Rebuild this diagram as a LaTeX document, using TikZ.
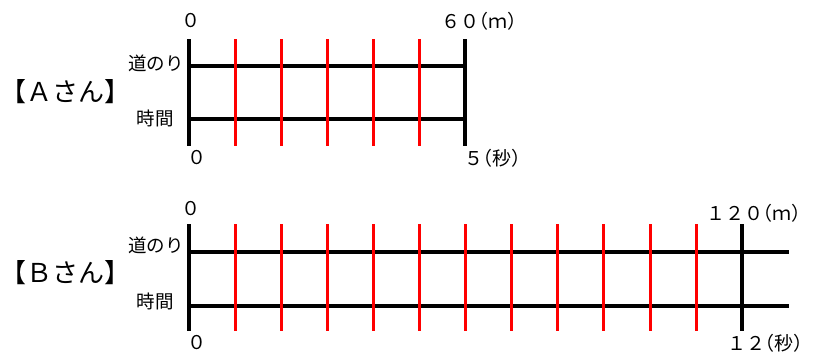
\documentclass[tikz,border=0pt]{standalone}
\usepackage{fontspec}
\setmainfont{Noto Sans CJK JP}
\newcommand\lpar{\makebox[0.5em][r]{（}}
\newcommand\rpar{\makebox[0.5em][l]{）}}
\tikzset{
  axisline/.style={black, line width=3.2pt},
  redline/.style={red, line width=3pt},
  num/.style={font=\fontsize{19}{19}\selectfont, inner sep=0pt},
  rowlbl/.style={font=\fontsize{18.5}{18.5}\selectfont, inner sep=0pt, anchor=east},
  who/.style={font=\fontsize{26}{26}\selectfont, inner sep=0pt, anchor=west},
}
\begin{document}
\begin{tikzpicture}[x=1pt, y=-1pt]
\useasboundingbox (0,0) rectangle (813,356);
\def\dx{46.1}
% A
\coordinate (A0) at (189,66);
\coordinate (A1) at (465,66);
\coordinate (T0) at (189,119);
\coordinate (T1) at (465,119);
\draw[axisline] (A0) -- (A1);
\draw[axisline] (T0) -- (T1);
\draw[axisline] (189,39) -- (189,146);
\draw[axisline] (465,39) -- (465,146);
\foreach \i in {1,...,5}
  \draw[redline] (189+\i*\dx,39) -- (189+\i*\dx,146);
\node[num] (a0top) at (191,21) {０};
\node[num, anchor=west] (a60) at (441,21) {６０\lpar ｍ\rpar};
\node[num] (a0bot) at (197,158) {０};
\node[num, anchor=west] (a5) at (464,158) {５\lpar 秒\rpar};
\node[rowlbl] (adist) at (184,63) {道のり};
\node[rowlbl] (atime) at (174,118) {時間};
\node[who] (aname) at (0,92) {【Ａさん】};
% B
\coordinate (B0) at (189,252);
\coordinate (B1) at (789,252);
\coordinate (S0) at (189,306);
\coordinate (S1) at (789,306);
\draw[axisline] (B0) -- (B1);
\draw[axisline] (S0) -- (S1);
\draw[axisline] (189,224) -- (189,331);
\draw[axisline] (742,224) -- (742,331);
\foreach \i in {1,...,11}
  \draw[redline] (189+\i*\dx,224) -- (189+\i*\dx,331);
\node[num] (b0top) at (191,209) {０};
\node[num, anchor=west] (b120) at (706,213) {１２０\lpar ｍ\rpar};
\node[num] (b0bot) at (197,343) {０};
\node[num, anchor=west] (b12) at (727,343) {１２\lpar 秒\rpar};
\node[rowlbl] (bdist) at (184,245) {道のり};
\node[rowlbl] (btime) at (174,301) {時間};
\node[who] (bname) at (0,273) {【Ｂさん】};
\end{tikzpicture}
\end{document}
